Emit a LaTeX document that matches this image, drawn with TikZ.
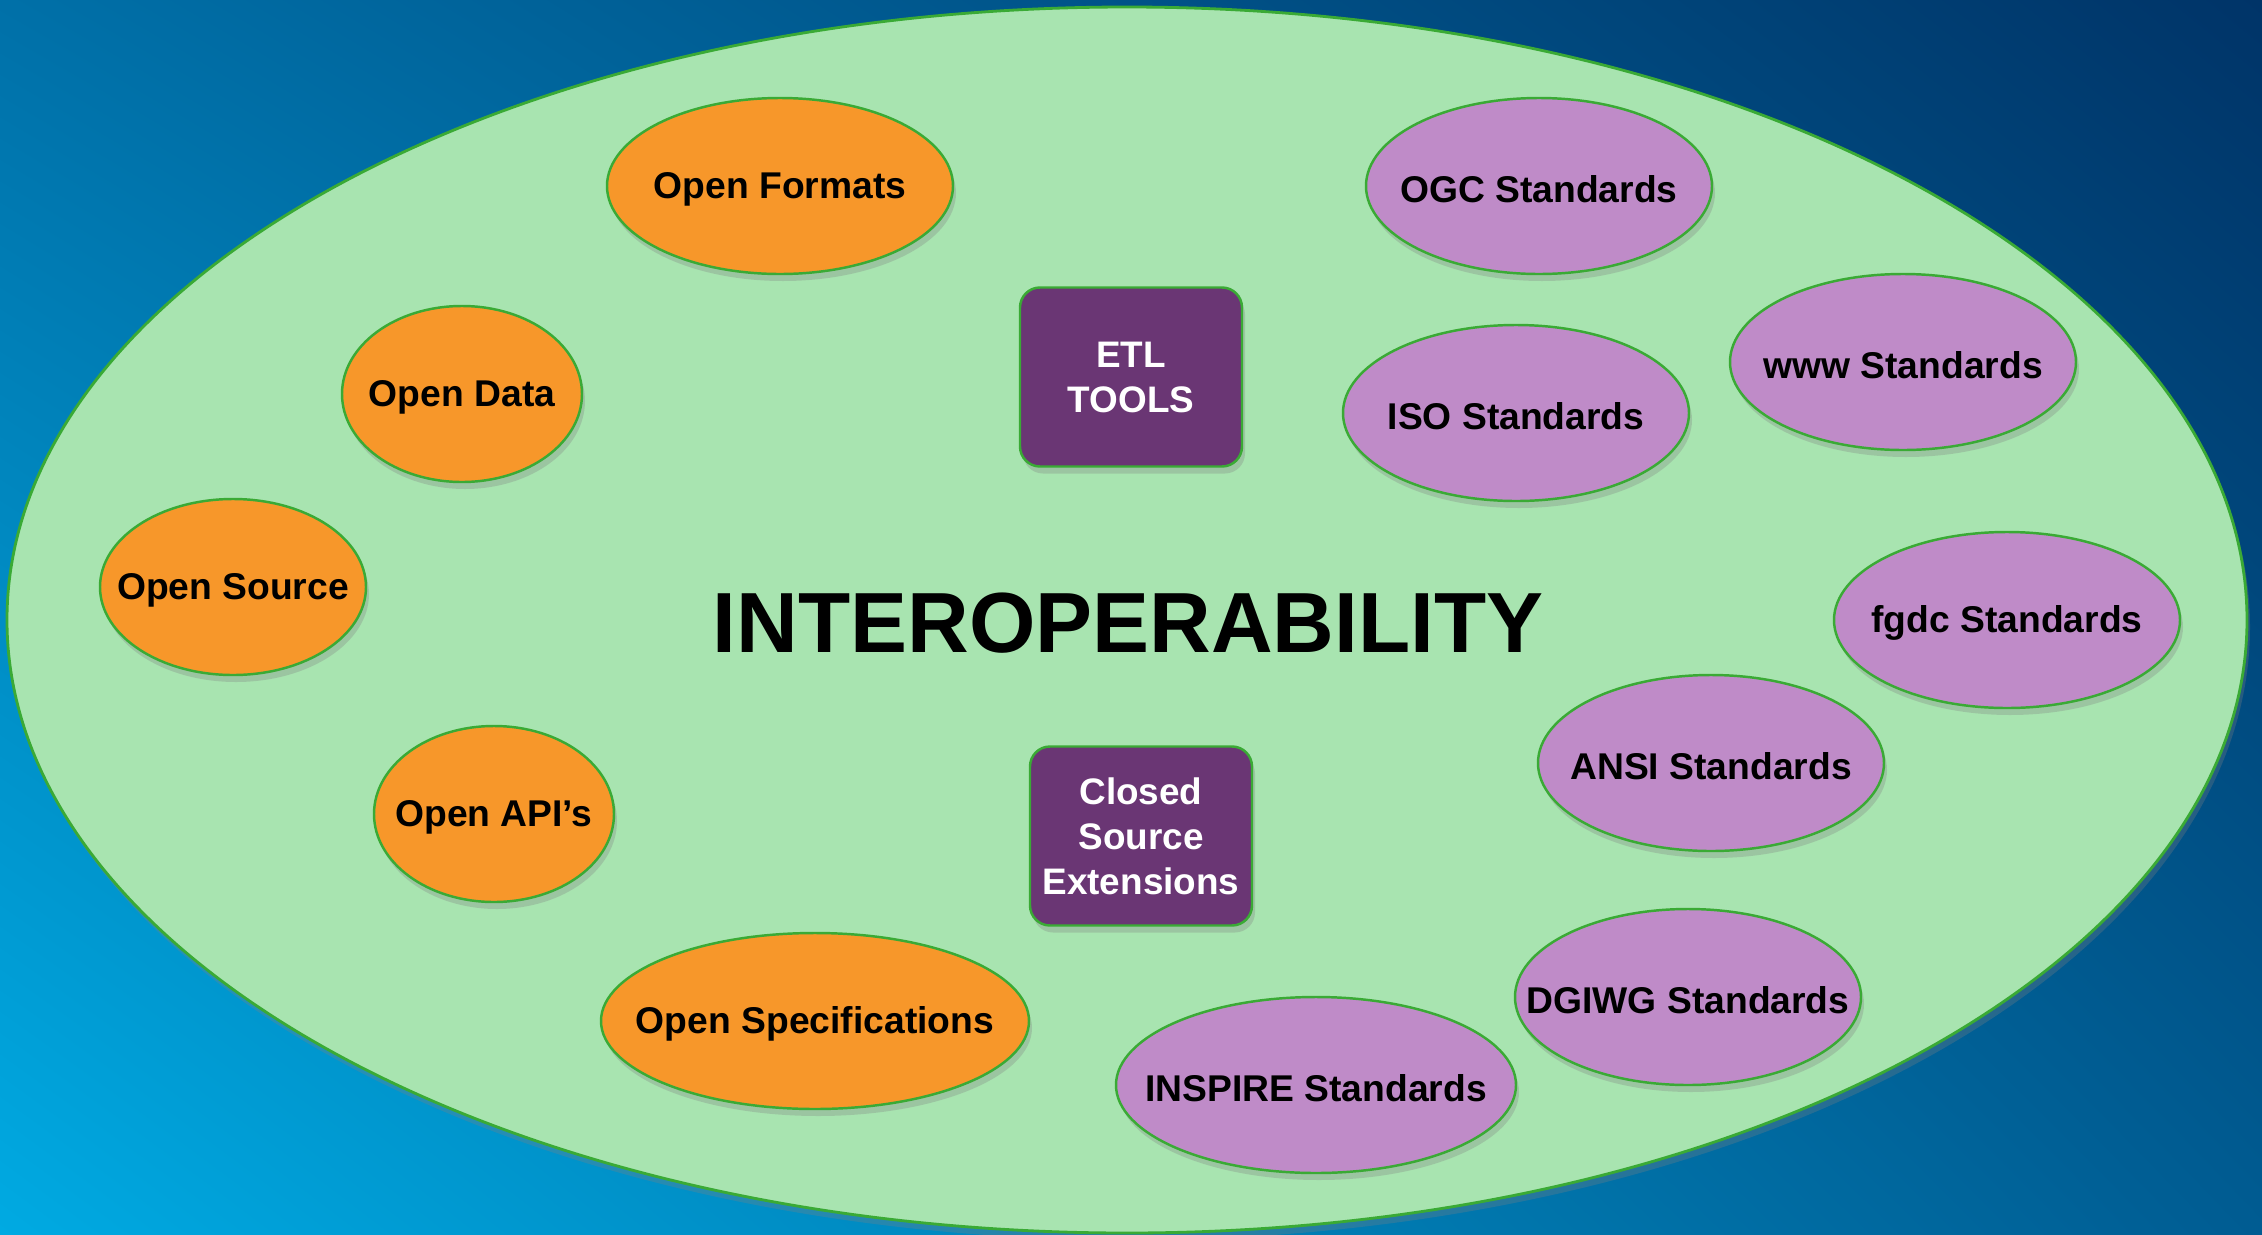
\documentclass[tikz,border=0pt]{standalone}
\usepackage{fontspec}
\setmainfont{Liberation Sans}
\usetikzlibrary{shapes.geometric,shadows,shadings}

\definecolor{bgtopleft}{HTML}{0070A8}
\definecolor{bgbotleft}{HTML}{00AAE2}
\definecolor{bgtopright}{HTML}{003468}
\definecolor{bgbotright}{HTML}{005C92}
\definecolor{fieldgreen}{HTML}{A8E4B0}
\definecolor{rimgreen}{HTML}{3AAA35}
\definecolor{openorange}{HTML}{F7972A}
\definecolor{stdlilac}{HTML}{BF8BC8}
\definecolor{toolplum}{HTML}{6A3674}

\tikzset{
  softshadow/.style={drop shadow={shadow xshift=0.03cm, shadow yshift=-0.07cm, opacity=0.3}},
  oval/.style={ellipse, draw=rimgreen, line width=0.7pt, inner sep=0pt,
    minimum height=1.76cm, softshadow,
    label={[font=\bfseries\fontsize{10.6}{12}\selectfont, yshift=-0.03cm]center:#1}},
  openoval/.style={oval=#1, fill=openorange},
  stdoval/.style={oval=#1, fill=stdlilac},
  toolbox/.style={draw=rimgreen, line width=0.7pt, fill=toolplum, rounded corners=0.2cm,
    minimum width=2.22cm, minimum height=1.79cm, inner sep=0pt, align=center,
    text=white, softshadow, font=\bfseries\fontsize{10.5}{12.8}\selectfont}
}

\begin{document}
\begin{tikzpicture}[x=1cm, y=-1cm]
  \useasboundingbox (0,0) rectangle (22.62,12.35);
  \shade[upper left=bgtopleft, lower left=bgbotleft, upper right=bgtopright, lower right=bgbotright]
    (0,0) rectangle (22.62,12.35);

  % the big field
  \node[ellipse, draw=rimgreen, line width=0.8pt, fill=fieldgreen, inner sep=0pt,
    minimum width=22.40cm, minimum height=12.26cm, softshadow] (field) at (11.27,6.20) {};
  \node[font=\bfseries\fontsize{24.3}{28}\selectfont] (interop) at (11.28,6.23) {INTEROPERABILITY};

  % open things
  \foreach \nm/\x/\y/\w/\txt in {
      formats/7.80/1.86/3.46/Open Formats,
      data/4.62/3.94/2.40/Open Data,
      source/2.33/5.87/2.66/Open Source,
      api/4.94/8.14/2.40/Open API’s,
      specs/8.15/10.21/4.28/Open Specifications} {
    \node[openoval=\txt, minimum width=\w cm] (\nm) at (\x,\y) {};
  }

  % standards
  \foreach \nm/\x/\y/\w/\txt in {
      ogc/15.39/1.86/3.46/OGC Standards,
      iso/15.16/4.13/3.46/ISO Standards,
      www/19.03/3.62/3.46/www Standards,
      fgdc/20.07/6.20/3.46/fgdc Standards,
      ansi/17.11/7.63/3.46/ANSI Standards,
      dgiwg/16.88/9.97/3.46/DGIWG Standards,
      inspire/13.16/10.85/4.00/INSPIRE Standards} {
    \node[stdoval=\txt, minimum width=\w cm] (\nm) at (\x,\y) {};
  }

  % tools
  \node[toolbox] (etl) at (11.31,3.77) {ETL\\TOOLS};
  \node[toolbox] (closed) at (11.41,8.36) {Closed\\Source\\Extensions};
\end{tikzpicture}
\end{document}
